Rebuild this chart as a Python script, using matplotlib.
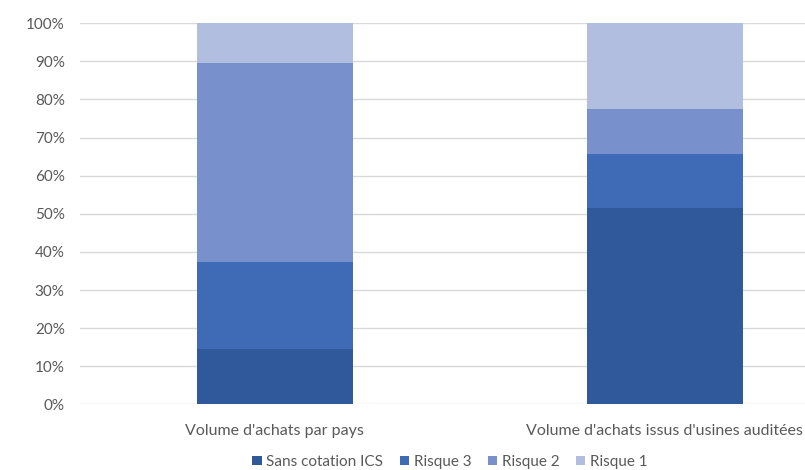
import matplotlib
matplotlib.use("Agg")
import matplotlib.pyplot as plt
from matplotlib.ticker import PercentFormatter

categories = ["Volume d'achats par pays", "Volume d'achats issus d'usines auditées"]
series_names = ["Sans cotation ICS", "Risque 3", "Risque 2", "Risque 1"]
sans_cotation = [14.4, 51.4]
risque_3 = [23.0, 14.2]
risque_2 = [52.1, 11.8]
risque_1 = [10.5, 22.6]

colors = ["#30599B", "#3F6AB6", "#7890CB", "#B2BEE0"]
text_color = "#595959"

plt.rcParams["font.family"] = ["Lato", "DejaVu Sans"]

fig = plt.figure(figsize=(8.05, 4.70), dpi=100)
ax = fig.add_axes([80 / 805, 1 - 404.3 / 470, 779.5 / 805, (404.3 - 23.3) / 470])

x = range(len(categories))
bottom = [0.0] * len(categories)
handles = []
for name, vals, col in zip(series_names, [sans_cotation, risque_3, risque_2, risque_1], colors):
    b = ax.bar(x, vals, width=0.40, bottom=bottom, color=col, label=name, zorder=3)
    handles.append(b)
    bottom = [bt + v for bt, v in zip(bottom, vals)]

ax.set_xlim(-0.5, 1.5)
ax.set_ylim(0, 100)
ax.set_yticks(range(0, 101, 10))
ax.yaxis.set_major_formatter(PercentFormatter(decimals=0))
ax.grid(axis="y", color="#D9D9D9", linewidth=1.0, zorder=0)
for s in ax.spines.values():
    s.set_visible(False)
ax.tick_params(axis="y", length=0, colors=text_color, labelsize=11, pad=11)
ax.tick_params(axis="x", length=0, colors=text_color, labelsize=11.5, pad=14)
ax.set_xticks(list(x))
ax.set_xticklabels(categories)

fig.legend(handles=handles, labels=series_names, loc="center",
           bbox_to_anchor=(450 / 805, 1 - 462 / 470), ncol=4, frameon=False,
           handlelength=0.6, handleheight=0.6, handletextpad=0.3,
           columnspacing=1.1, fontsize=11, labelcolor=text_color)

fig.savefig("out.png", dpi=100)
